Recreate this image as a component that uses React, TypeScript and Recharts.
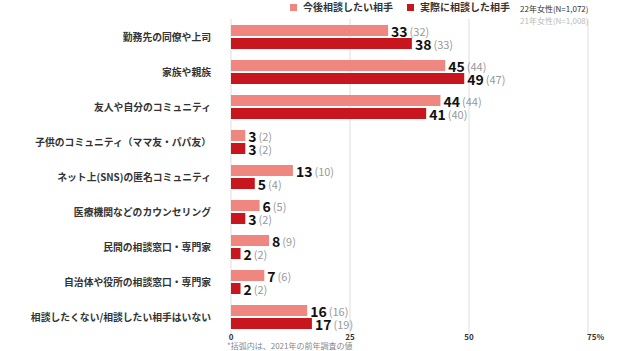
import React from "react";
import { Bar, BarChart, CartesianGrid, LabelList, XAxis, YAxis } from "recharts";

const categories = [
  "勤務先の同僚や上司",
  "家族や親族",
  "友人や自分のコミュニティ",
  "子供のコミュニティ（ママ友・パパ友）",
  "ネット上(SNS)の匿名コミュニティ",
  "医療機関などのカウンセリング",
  "民間の相談窓口・専門家",
  "自治体や役所の相談窓口・専門家",
  "相談したくない/相談したい相手はいない",
];
const wantToConsult = [33, 45, 44, 3, 13, 6, 8, 7, 16];
const wantToConsultPrev = [32, 44, 44, 2, 10, 5, 9, 6, 16];
const actuallyConsulted = [38, 49, 41, 3, 5, 3, 2, 2, 17];
const actuallyConsultedPrev = [33, 47, 40, 2, 4, 2, 2, 2, 19];
const xTicks = [0, 25, 50, 75];
const xTickLabels = ["0", "25", "50", "75%"];

const FONT = '"Noto Sans CJK JP", "Noto Sans", sans-serif';
const LIGHT = "#F08680";
const DARK = "#C8161E";

const data = categories.map((name, i) => ({
  name,
  future: wantToConsult[i],
  futurePrev: wantToConsultPrev[i],
  actual: actuallyConsulted[i],
  actualPrev: actuallyConsultedPrev[i],
}));

function makeLabel(prev: number[]) {
  return function ValueLabel(props: any) {
    const { x, y, width, height, value, index } = props;
    return (
      <text
        x={x + width + 3}
        y={y + height / 2}
        dominantBaseline="central"
        fontFamily={FONT}
      >
        <tspan fontSize={14} fontWeight={700} fill="#111">
          {value}
        </tspan>
        <tspan fontSize={11} fill="#999" dx={2}>
          ({prev[index]})
        </tspan>
      </text>
    );
  };
}

function CategoryTick({ y, payload }: any) {
  return (
    <text
      x={211}
      y={y}
      textAnchor="end"
      dominantBaseline="central"
      fontFamily={FONT}
      fontSize={9.8}
      fontWeight={700}
      fill="#333"
    >
      {payload.value}
    </text>
  );
}

function ValueTick({ x, y, payload }: any) {
  const i = xTicks.indexOf(payload.value);
  const last = i === xTicks.length - 1;
  return (
    <text
      x={last ? x - 1 : x}
      y={y - 6}
      textAnchor={last ? "start" : "middle"}
      dominantBaseline="central"
      fontFamily={FONT}
      fontSize={8}
      fontWeight={700}
      fill="#333"
    >
      {xTickLabels[i]}
    </text>
  );
}

export default function App() {
  return (
    <div
      style={{
        position: "absolute",
        left: 0,
        top: 0,
        width: 624,
        height: 351,
        background: "#fff",
        fontFamily: FONT,
      }}
    >
      <BarChart
        width={624}
        height={351}
        data={data}
        layout="vertical"
        margin={{ top: 19, right: 36, left: 0, bottom: 0 }}
        barSize={11}
        barGap={2}
      >
        <CartesianGrid horizontal={false} stroke="#ddd" />
        <XAxis
          type="number"
          domain={[0, 75]}
          ticks={xTicks}
          axisLine={false}
          tickLine={false}
          height={17}
          tick={<ValueTick />}
        />
        <YAxis
          type="category"
          dataKey="name"
          width={231}
          axisLine={false}
          tickLine={false}
          interval={0}
          tick={<CategoryTick />}
        />
        <Bar dataKey="future" fill={LIGHT} isAnimationActive={false}>
          <LabelList dataKey="future" content={makeLabel(wantToConsultPrev)} />
        </Bar>
        <Bar dataKey="actual" fill={DARK} isAnimationActive={false}>
          <LabelList dataKey="actual" content={makeLabel(actuallyConsultedPrev)} />
        </Bar>
      </BarChart>

      <div
        style={{
          position: "absolute",
          left: 290,
          top: 0,
          display: "flex",
          alignItems: "center",
          fontSize: 10,
          fontWeight: 700,
          color: "#333",
          whiteSpace: "nowrap",
          lineHeight: "14px",
        }}
      >
        <span style={{ width: 7, height: 7, background: LIGHT, marginRight: 6 }} />
        <span>今後相談したい相手</span>
        <span style={{ width: 7, height: 7, background: DARK, marginLeft: 14, marginRight: 6 }} />
        <span>実際に相談した相手</span>
      </div>
      <div
        style={{
          position: "absolute",
          left: 520,
          top: 3,
          fontSize: 8,
          lineHeight: "12px",
          whiteSpace: "nowrap",
        }}
      >
        <div style={{ color: "#333" }}>22年女性(N=1,072)</div>
        <div style={{ color: "#bbb" }}>21年女性(N=1,008)</div>
      </div>
      <div
        style={{
          position: "absolute",
          left: 227,
          top: 340,
          fontSize: 8,
          color: "#888",
          whiteSpace: "nowrap",
          lineHeight: "11px",
        }}
      >
        *括弧内は、2021年の前年調査の値
      </div>
    </div>
  );
}
